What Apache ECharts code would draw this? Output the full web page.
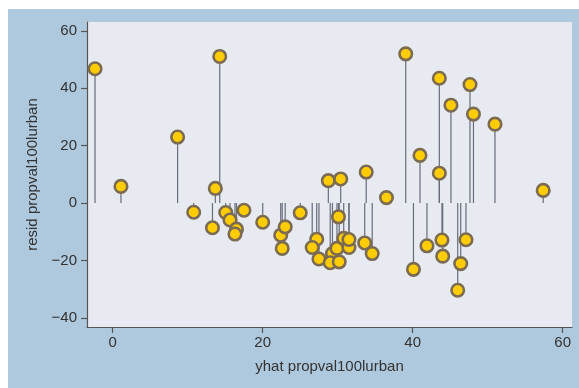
<!DOCTYPE html>
<html>
<head>
<meta charset="utf-8">
<script src="https://cdn.jsdelivr.net/npm/echarts@6/dist/echarts.min.js"></script>
<style>
html,body{margin:0;padding:0;background:#ffffff;}
#chart{width:579px;height:388px;}
</style>
</head>
<body>
<div id="chart"></div>
<script>
// fitted values (x) and residuals (y)
const yhat = [
  -2.36, 1.1, 8.65, 10.8, 14.27, 13.68, 13.3, 15.07, 15.64, 16.5,
  16.3, 17.5, 20.0, 22.4, 23.0, 22.6, 25.0, 28.75, 30.4, 33.8,
  36.5, 30.1, 29.3, 27.2, 26.6, 27.5, 29.0, 30.2, 29.9,
  30.8, 31.5, 31.5, 33.6, 34.6, 40.1, 41.9, 43.9, 44.0, 47.1,
  46.4, 46.0, 39.07, 43.55, 47.64, 45.1, 48.1, 50.97, 40.97, 43.55,
  57.4
];
const resid = [
  46.8, 5.8, 23.0, -3.2, 51.1, 5.1, -8.6, -3.3, -5.9, -9.1,
  -10.8, -2.5, -6.7, -11.2, -8.3, -15.8, -3.4, 7.8, 8.4, 10.8,
  1.9, -4.8, -17.6, -12.6, -15.5, -19.5, -20.8, -20.5, -15.8,
  -12.3, -15.5, -12.7, -13.9, -17.6, -23.1, -14.9, -12.9, -18.5, -12.8,
  -21.1, -30.4, 52.0, 43.5, 41.3, 34.1, 31.0, 27.5, 16.6, 10.4,
  4.4
];
const xTicks = [0, 20, 40, 60];
const yTicks = [-40, -20, 0, 20, 40, 60];
const xTitle = 'yhat propval100lurban';
const yTitle = 'resid propval100lurban';

const pts = yhat.map((x, i) => [x, resid[i]]);
const fmt = v => String(v).replace('-', '\u2212');
const FONT = '"Liberation Sans", Arial, Helvetica, sans-serif';

const chart = echarts.init(document.getElementById('chart'), null, {renderer: 'canvas'});
chart.setOption({
  backgroundColor: '#ffffff',
  animation: false,
  graphic: [{
    type: 'rect', z: -10, silent: true,
    shape: {x: 8, y: 9, width: 571, height: 379},
    style: {fill: '#aec9de'}
  }],
  grid: {
    left: 87, top: 22, right: 7, bottom: 61,
    show: true, backgroundColor: '#e7eaf1', borderWidth: 0
  },
  xAxis: {
    type: 'value', min: -3.43, max: 61.24,
    name: xTitle, nameLocation: 'middle', nameGap: 32,
    nameTextStyle: {fontFamily: FONT, fontSize: 15, color: '#333333'},
    axisLine: {show: true, onZero: false, lineStyle: {color: '#555555', width: 1.2}},
    axisTick: {show: true, customValues: xTicks, length: 6, lineStyle: {color: '#555555', width: 1.2}},
    axisLabel: {customValues: xTicks, formatter: fmt, margin: 8, fontFamily: FONT, fontSize: 15, color: '#333333'},
    splitLine: {show: false}
  },
  yAxis: {
    type: 'value', min: -43.2, max: 63.1,
    name: yTitle, nameLocation: 'middle', nameGap: 46,
    nameTextStyle: {fontFamily: FONT, fontSize: 15, color: '#333333'},
    axisLine: {show: true, onZero: false, lineStyle: {color: '#555555', width: 1.2}},
    axisTick: {show: true, customValues: yTicks, length: 6, lineStyle: {color: '#555555', width: 1.2}},
    axisLabel: {customValues: yTicks, formatter: fmt, margin: 10, fontFamily: FONT, fontSize: 15, color: '#333333'},
    splitLine: {show: false}
  },
  series: [
    {
      type: 'custom',
      data: pts,
      encode: {x: 0, y: 1},
      z: 1,
      renderItem: function (params, api) {
        const x = api.value(0), y = api.value(1);
        const p0 = api.coord([x, 0]);
        const p1 = api.coord([x, y]);
        return {
          type: 'line',
          shape: {x1: p0[0], y1: p0[1], x2: p1[0], y2: p1[1]},
          style: {stroke: '#686c7b', lineWidth: 1.2}
        };
      }
    },
    {
      type: 'scatter',
      data: pts,
      z: 2,
      symbol: 'circle',
      symbolSize: 12.5,
      itemStyle: {color: '#ffcc00', borderColor: '#7a6b52', borderWidth: 2.6, opacity: 1}
    }
  ]
});
</script>
</body>
</html>
